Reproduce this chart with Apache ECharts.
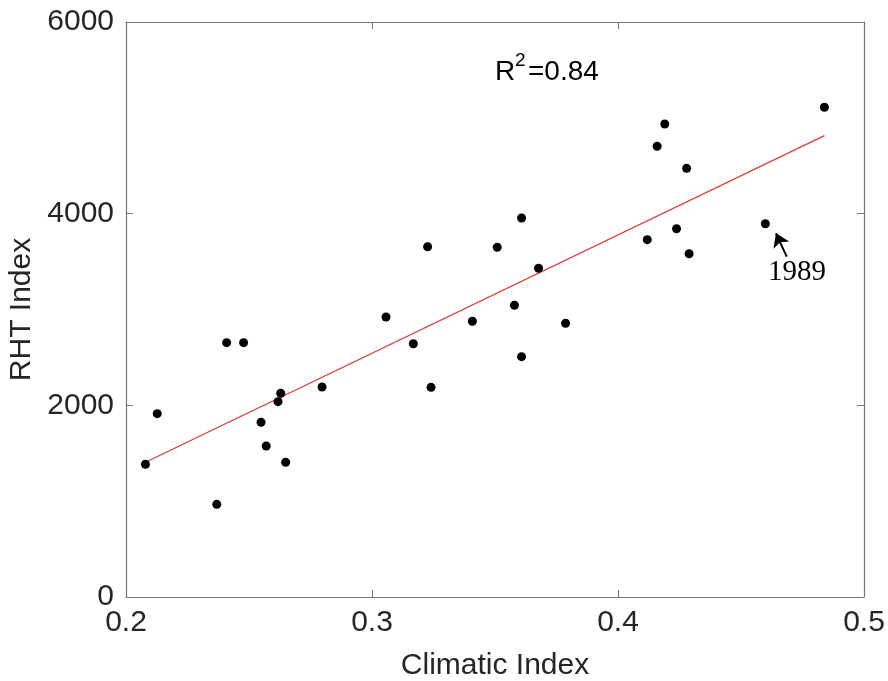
<!DOCTYPE html>
<html>
<head>
<meta charset="utf-8">
<script src="https://cdn.jsdelivr.net/npm/echarts@6/dist/echarts.min.js"></script>
<style>
  html, body { margin: 0; padding: 0; background: #fff; }
</style>
</head>
<body>
<div id="main" style="width: 888px;height:681px;"></div>
<script type="text/javascript">
    // 数据：气候指数 vs RHT 指数
    var climaticIndex = [0.2079, 0.2127, 0.2369, 0.2409, 0.2478, 0.2549, 0.2570, 0.2618, 0.2629, 0.2649,
                         0.2797, 0.3057, 0.3168, 0.3226, 0.3240, 0.3408, 0.3509, 0.3579, 0.3608, 0.3608,
                         0.3677, 0.3787, 0.4119, 0.4159, 0.4190, 0.4238, 0.4279, 0.4289, 0.4599, 0.4839];
    var rhtIndex = [1385, 1913, 967, 2654, 2654, 1823, 1576, 2038, 2126, 1406,
                    2191, 2922, 2643, 3655, 2188, 2877, 3649, 3044, 3955, 2508,
                    3430, 2856, 3729, 4703, 4936, 3843, 4473, 3582, 3895, 5110];
    // 回归线两端
    var fitX = [0.2079, 0.4839];
    var fitY = [1406, 4814];
    var xTicks = [0.2, 0.3, 0.4, 0.5];
    var yTicks = [0, 2000, 4000, 6000];
    // 1989 标注
    var arrowTail = [0.4686, 3551];
    var arrowTip = [0.4642, 3795];
    var labelPos = [0.4728, 3391];

    var points = climaticIndex.map(function (x, i) { return [x, rhtIndex[i]]; });
    var fitLine = fitX.map(function (x, i) { return [x, fitY[i]]; });

    var axisColor = '#777';
    var textColor = '#262626';
    var font = 'Liberation Sans, Arial, sans-serif';

    var myChart = echarts.init(document.getElementById('main'));

    function baseX(pos, show) {
        return {
            type: 'value', position: pos,
            min: xTicks[0], max: xTicks[xTicks.length - 1], interval: 0.1,
            axisLine: { show: true, onZero: false, lineStyle: { color: axisColor, width: 1.2 } },
            axisTick: { show: true, inside: true, length: 7, lineStyle: { color: axisColor } },
            splitLine: { show: false },
            axisLabel: {
                show: show, margin: 11, color: textColor, fontSize: 30, fontFamily: font,
                formatter: function (v) { return v.toFixed(1); }
            }
        };
    }
    function baseY(pos, show) {
        return {
            type: 'value', position: pos,
            min: yTicks[0], max: yTicks[yTicks.length - 1], interval: 2000,
            axisLine: { show: true, onZero: false, lineStyle: { color: axisColor, width: 1.2 } },
            axisTick: { show: true, inside: true, length: 7, lineStyle: { color: axisColor } },
            splitLine: { show: false },
            axisLabel: {
                show: show, margin: 12, color: textColor, fontSize: 30, fontFamily: font,
                formatter: function (v) { return String(v); }
            }
        };
    }

    var xMain = baseX('bottom', true);
    xMain.name = 'Climatic Index';
    xMain.nameLocation = 'middle';
    xMain.nameGap = 54;
    xMain.nameTextStyle = { color: textColor, fontSize: 30, fontFamily: font };
    var yMain = baseY('left', true);
    yMain.name = 'RHT Index';
    yMain.nameLocation = 'middle';
    yMain.nameGap = 85;
    yMain.nameTextStyle = { color: textColor, fontSize: 30, fontFamily: font };

    option = {
        animation: false,
        backgroundColor: '#fff',
        grid: { left: 126, right: 24, top: 22, bottom: 84, containLabel: false, outerBoundsMode: 'none' },
        xAxis: [xMain, baseX('top', false)],
        yAxis: [yMain, baseY('right', false)],
        graphic: [
            { type: 'text', left: 495, top: 58, style: { text: 'R', fontSize: 28, fontFamily: font, fill: '#000' } },
            { type: 'text', left: 515, top: 51, style: { text: '2', fontSize: 19, fontFamily: font, fill: '#000' } },
            { type: 'text', left: 528, top: 58, style: { text: '=0.84', fontSize: 28, fontFamily: font, fill: '#000' } }
        ],
        series: [
            {
                name: 'fit',
                type: 'line',
                data: fitLine,
                symbol: 'none',
                lineStyle: { color: '#e03a3a', width: 1.2 },
                z: 2
            },
            {
                name: 'RHT',
                type: 'scatter',
                data: points,
                symbol: 'circle',
                symbolSize: 9,
                itemStyle: { color: '#000', opacity: 1 },
                z: 3
            },
            {
                name: 'arrow',
                type: 'lines',
                coordinateSystem: 'cartesian2d',
                data: [{ coords: [arrowTail, arrowTip] }],
                symbol: ['none', 'arrow'],
                symbolSize: [0, 13],
                lineStyle: { color: '#000', width: 2, opacity: 1 },
                z: 4
            },
            {
                name: 'label1989',
                type: 'scatter',
                data: [labelPos],
                symbolSize: 0,
                silent: true,
                itemStyle: { opacity: 1 },
                label: {
                    show: true, position: 'inside', formatter: '1989',
                    fontSize: 29, fontFamily: 'Liberation Serif, Times New Roman, serif', color: '#000'
                }
            }
        ]
    };
    myChart.setOption(option);
</script>
</body>
</html>
